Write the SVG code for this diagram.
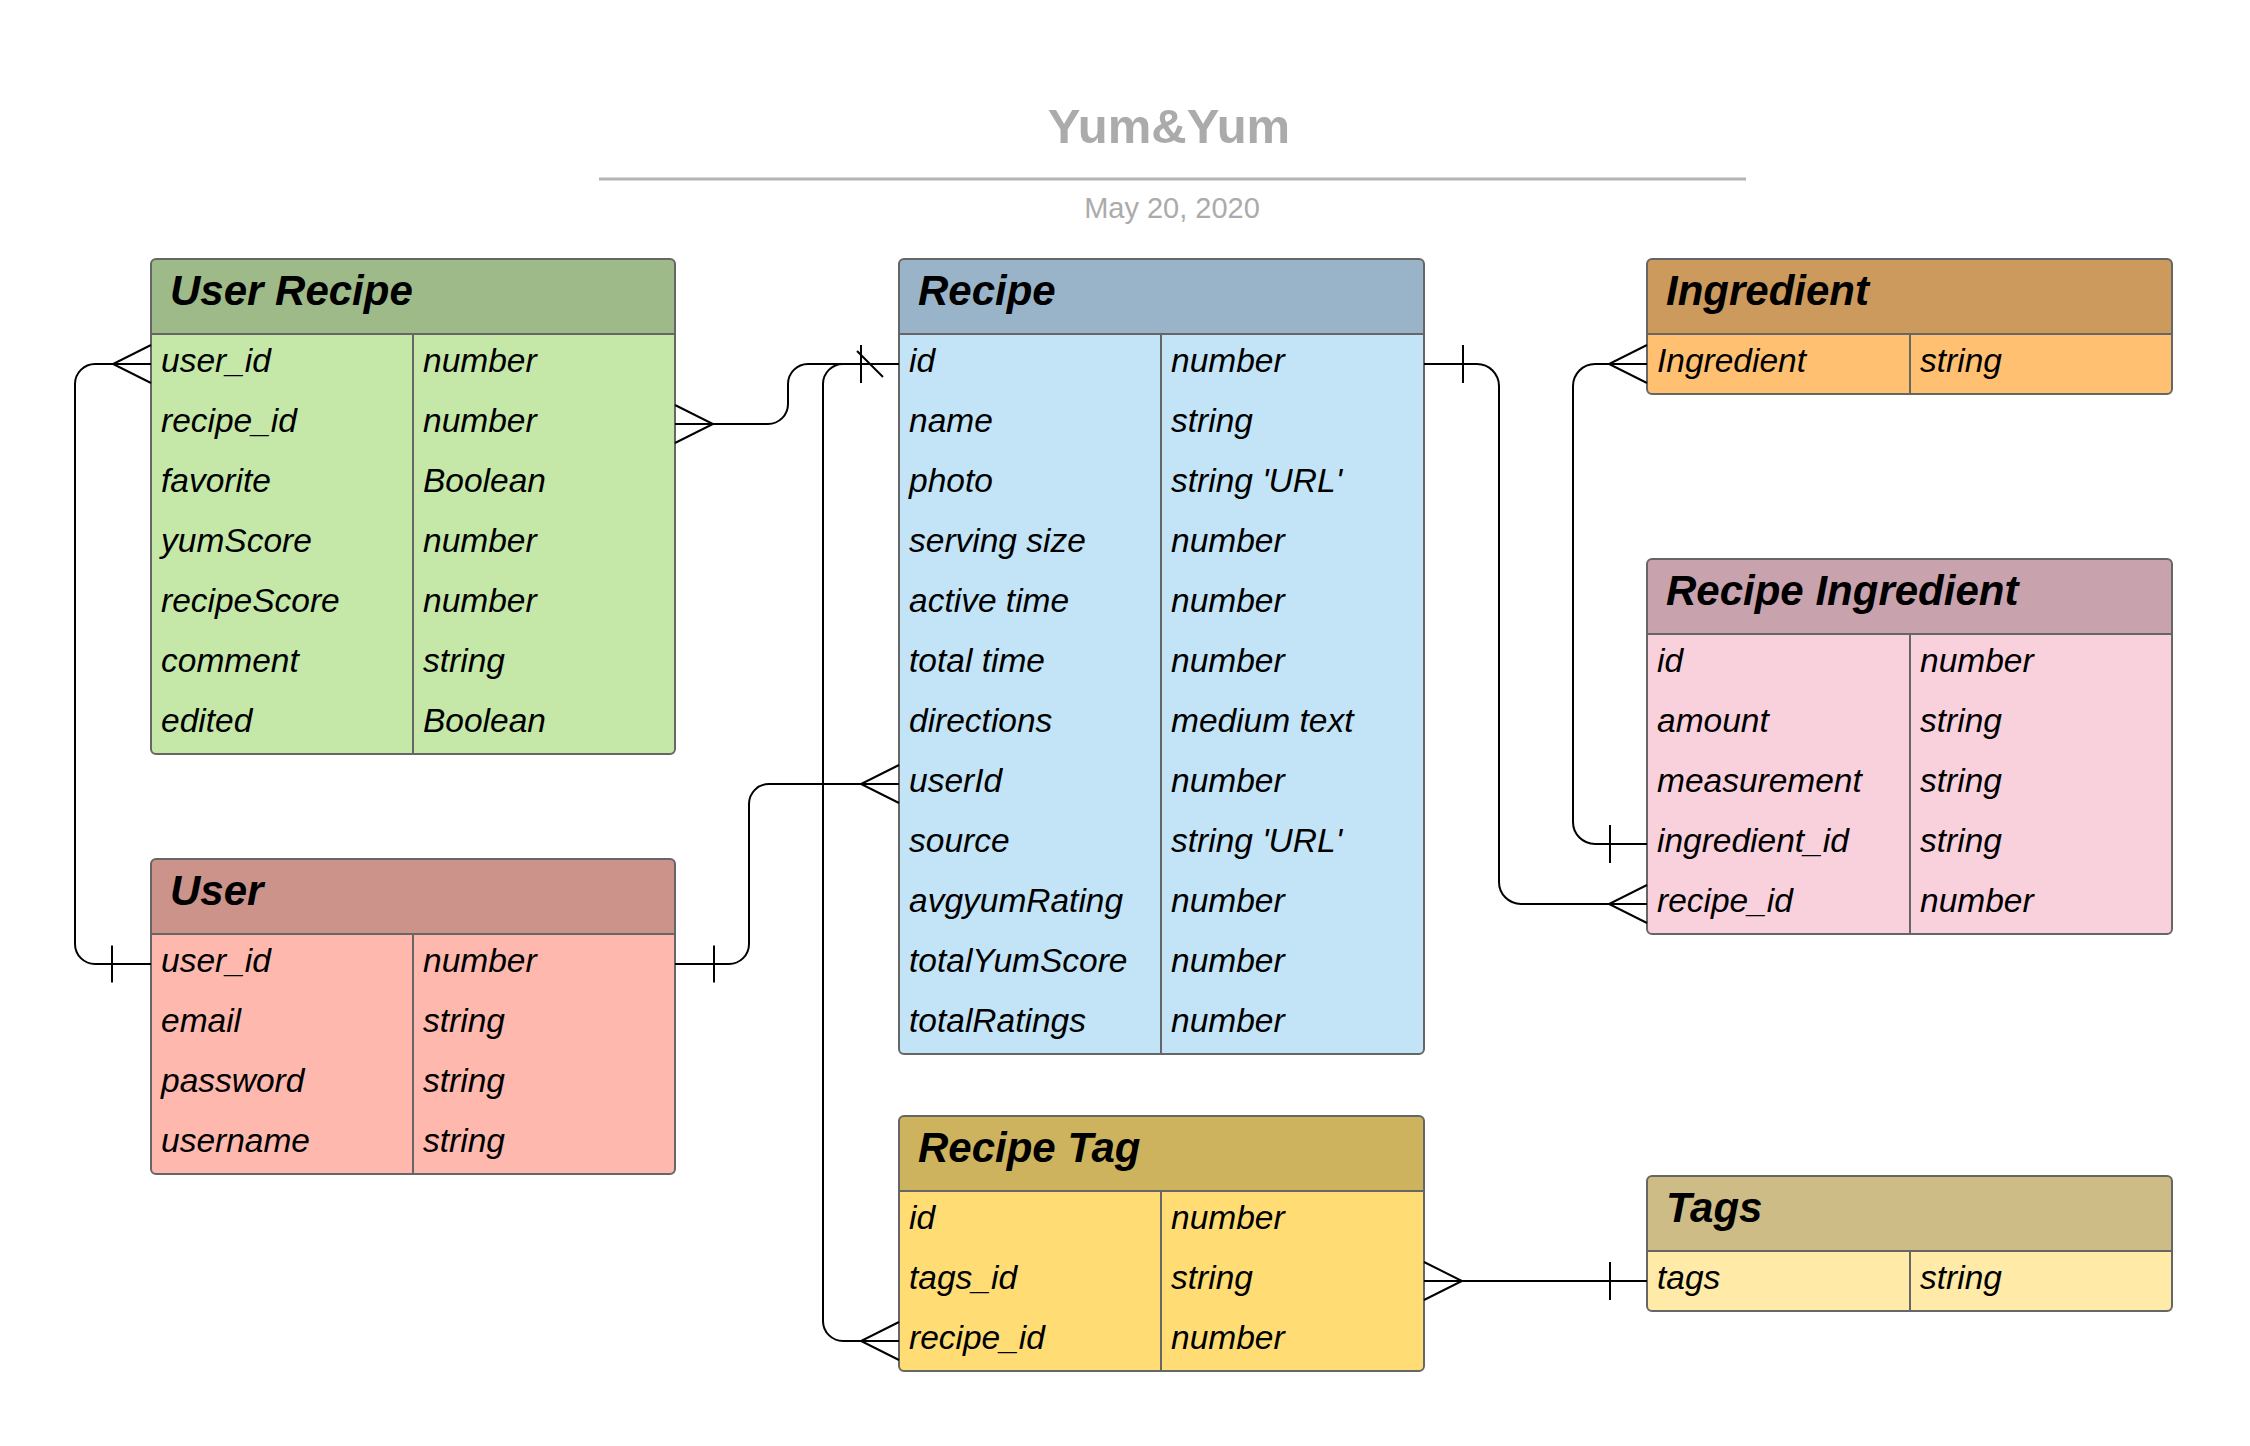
<svg xmlns="http://www.w3.org/2000/svg" width="2250" height="1446" viewBox="0 0 2250 1446">
<style>
text{font-family:"Liberation Sans",Arial,sans-serif;}
.ttl{font-size:49px;font-weight:bold;fill:#ababab;}
.date{font-size:29px;fill:#ababab;}
.hd{font-size:42px;font-weight:bold;font-style:italic;fill:#000;}
.rw{font-size:33.5px;font-style:italic;fill:#000;}
.bd{stroke:#666;stroke-width:2;fill:none;}
.ln{stroke:#666;stroke-width:2;}
.cn{stroke:#000;stroke-width:2;fill:none;}
</style>
<rect width="2250" height="1446" fill="#fff"/>
<g id="title">
<text class="ttl" x="1169" y="143" text-anchor="middle">Yum&amp;Yum</text>
<line x1="599" y1="179" x2="1746" y2="179" stroke="#b3b3b3" stroke-width="3"/>
<text class="date" x="1172" y="218" text-anchor="middle">May 20, 2020</text>
</g>

<g id="user-recipe">
<rect x="151" y="259" width="524" height="495" rx="5" fill="#c5e8a9"/>
<path d="M151 334 V264 A5 5 0 0 1 156 259 H670 A5 5 0 0 1 675 264 V334 Z" fill="#9fba89"/>
<line class="ln" x1="151" y1="334" x2="675" y2="334"/>
<line class="ln" x1="413" y1="334" x2="413" y2="754"/>
<rect class="bd" x="151" y="259" width="524" height="495" rx="5"/>
<text class="hd" x="170" y="305">User Recipe</text>
<text class="rw" x="161" y="372">user_id</text><text class="rw" x="423" y="372">number</text>
<text class="rw" x="161" y="432">recipe_id</text><text class="rw" x="423" y="432">number</text>
<text class="rw" x="161" y="492">favorite</text><text class="rw" x="423" y="492">Boolean</text>
<text class="rw" x="161" y="552">yumScore</text><text class="rw" x="423" y="552">number</text>
<text class="rw" x="161" y="612">recipeScore</text><text class="rw" x="423" y="612">number</text>
<text class="rw" x="161" y="672">comment</text><text class="rw" x="423" y="672">string</text>
<text class="rw" x="161" y="732">edited</text><text class="rw" x="423" y="732">Boolean</text>
</g>

<g id="recipe">
<rect x="899" y="259" width="525" height="795" rx="5" fill="#c3e4f6"/>
<path d="M899 334 V264 A5 5 0 0 1 904 259 H1419 A5 5 0 0 1 1424 264 V334 Z" fill="#99b4c9"/>
<line class="ln" x1="899" y1="334" x2="1424" y2="334"/>
<line class="ln" x1="1161" y1="334" x2="1161" y2="1054"/>
<rect class="bd" x="899" y="259" width="525" height="795" rx="5"/>
<text class="hd" x="918" y="305">Recipe</text>
<text class="rw" x="909" y="372">id</text><text class="rw" x="1171" y="372">number</text>
<text class="rw" x="909" y="432">name</text><text class="rw" x="1171" y="432">string</text>
<text class="rw" x="909" y="492">photo</text><text class="rw" x="1171" y="492">string 'URL'</text>
<text class="rw" x="909" y="552">serving size</text><text class="rw" x="1171" y="552">number</text>
<text class="rw" x="909" y="612">active time</text><text class="rw" x="1171" y="612">number</text>
<text class="rw" x="909" y="672">total time</text><text class="rw" x="1171" y="672">number</text>
<text class="rw" x="909" y="732">directions</text><text class="rw" x="1171" y="732">medium text</text>
<text class="rw" x="909" y="792">userId</text><text class="rw" x="1171" y="792">number</text>
<text class="rw" x="909" y="852">source</text><text class="rw" x="1171" y="852">string 'URL'</text>
<text class="rw" x="909" y="912">avgyumRating</text><text class="rw" x="1171" y="912">number</text>
<text class="rw" x="909" y="972">totalYumScore</text><text class="rw" x="1171" y="972">number</text>
<text class="rw" x="909" y="1032">totalRatings</text><text class="rw" x="1171" y="1032">number</text>
</g>

<g id="ingredient">
<rect x="1647" y="259" width="525" height="135" rx="5" fill="#ffc171"/>
<path d="M1647 334 V264 A5 5 0 0 1 1652 259 H2167 A5 5 0 0 1 2172 264 V334 Z" fill="#cc9a5c"/>
<line class="ln" x1="1647" y1="334" x2="2172" y2="334"/>
<line class="ln" x1="1910" y1="334" x2="1910" y2="394"/>
<rect class="bd" x="1647" y="259" width="525" height="135" rx="5"/>
<text class="hd" x="1666" y="305">Ingredient</text>
<text class="rw" x="1657" y="372">Ingredient</text><text class="rw" x="1920" y="372">string</text>
</g>

<g id="recipe-ingredient">
<rect x="1647" y="559" width="525" height="375" rx="5" fill="#f9d1dc"/>
<path d="M1647 634 V564 A5 5 0 0 1 1652 559 H2167 A5 5 0 0 1 2172 564 V634 Z" fill="#c8a3ad"/>
<line class="ln" x1="1647" y1="634" x2="2172" y2="634"/>
<line class="ln" x1="1910" y1="634" x2="1910" y2="934"/>
<rect class="bd" x="1647" y="559" width="525" height="375" rx="5"/>
<text class="hd" x="1666" y="605">Recipe Ingredient</text>
<text class="rw" x="1657" y="672">id</text><text class="rw" x="1920" y="672">number</text>
<text class="rw" x="1657" y="732">amount</text><text class="rw" x="1920" y="732">string</text>
<text class="rw" x="1657" y="792">measurement</text><text class="rw" x="1920" y="792">string</text>
<text class="rw" x="1657" y="852">ingredient_id</text><text class="rw" x="1920" y="852">string</text>
<text class="rw" x="1657" y="912">recipe_id</text><text class="rw" x="1920" y="912">number</text>
</g>

<g id="user">
<rect x="151" y="859" width="524" height="315" rx="5" fill="#ffb8ae"/>
<path d="M151 934 V864 A5 5 0 0 1 156 859 H670 A5 5 0 0 1 675 864 V934 Z" fill="#cc938b"/>
<line class="ln" x1="151" y1="934" x2="675" y2="934"/>
<line class="ln" x1="413" y1="934" x2="413" y2="1174"/>
<rect class="bd" x="151" y="859" width="524" height="315" rx="5"/>
<text class="hd" x="170" y="905">User</text>
<text class="rw" x="161" y="972">user_id</text><text class="rw" x="423" y="972">number</text>
<text class="rw" x="161" y="1032">email</text><text class="rw" x="423" y="1032">string</text>
<text class="rw" x="161" y="1092">password</text><text class="rw" x="423" y="1092">string</text>
<text class="rw" x="161" y="1152">username</text><text class="rw" x="423" y="1152">string</text>
</g>

<g id="recipe-tag">
<rect x="899" y="1116" width="525" height="255" rx="5" fill="#ffdd74"/>
<path d="M899 1191 V1121 A5 5 0 0 1 904 1116 H1419 A5 5 0 0 1 1424 1121 V1191 Z" fill="#cdb35d"/>
<line class="ln" x1="899" y1="1191" x2="1424" y2="1191"/>
<line class="ln" x1="1161" y1="1191" x2="1161" y2="1371"/>
<rect class="bd" x="899" y="1116" width="525" height="255" rx="5"/>
<text class="hd" x="918" y="1162">Recipe Tag</text>
<text class="rw" x="909" y="1229">id</text><text class="rw" x="1171" y="1229">number</text>
<text class="rw" x="909" y="1289">tags_id</text><text class="rw" x="1171" y="1289">string</text>
<text class="rw" x="909" y="1349">recipe_id</text><text class="rw" x="1171" y="1349">number</text>
</g>

<g id="tags">
<rect x="1647" y="1176" width="525" height="135" rx="5" fill="#ffeba7"/>
<path d="M1647 1251 V1181 A5 5 0 0 1 1652 1176 H2167 A5 5 0 0 1 2172 1181 V1251 Z" fill="#cdbc86"/>
<line class="ln" x1="1647" y1="1251" x2="2172" y2="1251"/>
<line class="ln" x1="1910" y1="1251" x2="1910" y2="1311"/>
<rect class="bd" x="1647" y="1176" width="525" height="135" rx="5"/>
<text class="hd" x="1666" y="1222">Tags</text>
<text class="rw" x="1657" y="1289">tags</text><text class="rw" x="1920" y="1289">string</text>
</g>

<g id="connectors" class="cn">
<!-- User Recipe.user_id  >|  User.user_id -->
<path d="M151 364 H95 A20 20 0 0 0 75 384 V944 A20 20 0 0 0 95 964 H151"/>
<path d="M151 345 L113 364 L151 383"/>
<path d="M112 945.5 V982.5"/>
<!-- User Recipe.recipe_id  >|  Recipe.id -->
<path d="M675 424 H768 A20 20 0 0 0 788 404 V384 A20 20 0 0 1 808 364 H899"/>
<path d="M675 405 L713 424 L675 443"/>
<path d="M861 345 V383"/>
<path d="M857 351 L883 377"/>
<!-- Recipe Tag.recipe_id  >|  Recipe.id -->
<path d="M899 1341 H843 A20 20 0 0 1 823 1321 V384 A20 20 0 0 1 843 364 H899"/>
<path d="M899 1322 L861 1341 L899 1360"/>
<!-- Recipe.userId  >|  User.user_id -->
<path d="M899 784 H769 A20 20 0 0 0 749 804 V944 A20 20 0 0 1 729 964 H675"/>
<path d="M899 765 L861 784 L899 803"/>
<path d="M714 945.5 V982.5"/>
<!-- Recipe.id  |<  Recipe Ingredient.recipe_id -->
<path d="M1424 364 H1477 A22 22 0 0 1 1499 386 V882 A22 22 0 0 0 1521 904 H1647"/>
<path d="M1463 345 V383"/>
<path d="M1647 885 L1609 904 L1647 923"/>
<!-- Ingredient  >|  Recipe Ingredient.ingredient_id -->
<path d="M1647 364 H1595 A22 22 0 0 0 1573 386 V822 A22 22 0 0 0 1595 844 H1647"/>
<path d="M1647 345 L1609 364 L1647 383"/>
<path d="M1610 825 V863"/>
<!-- Recipe Tag.tags_id  >|  Tags.tags -->
<path d="M1424 1281 H1647"/>
<path d="M1424 1262 L1462 1281 L1424 1300"/>
<path d="M1610 1262 V1300"/>
</g>
</svg>
